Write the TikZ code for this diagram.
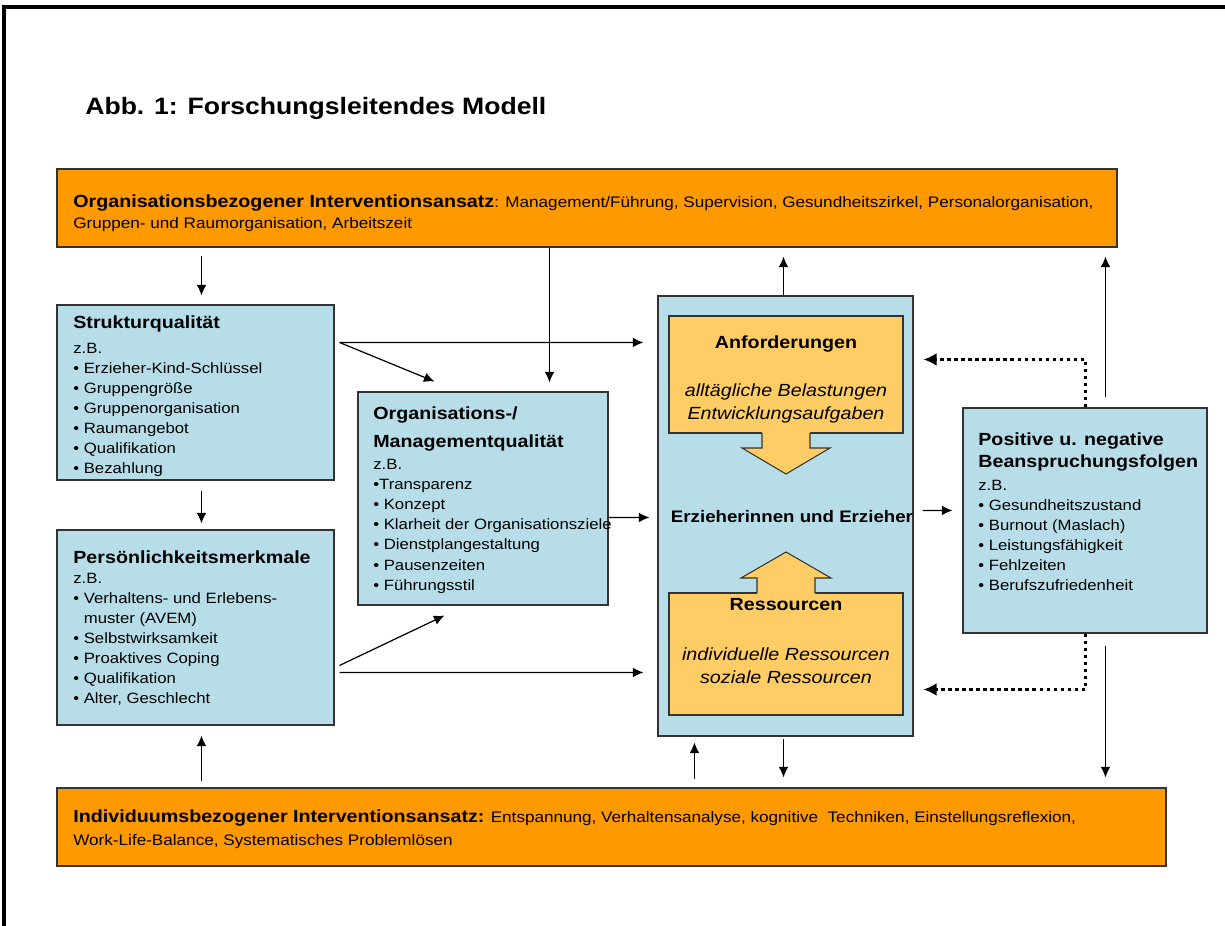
\documentclass[tikz,border=0pt]{standalone}
\usepackage{fontspec}
\setmainfont{Liberation Sans}[FakeStretch=1.12]
\usepackage{tikz}
\usetikzlibrary{positioning,fit,calc,arrows.meta}
\usepackage{xcolor}
\definecolor{ivorange}{HTML}{FF9900}
\definecolor{ivblau}{HTML}{B7DEE8}
\definecolor{ivgelb}{HTML}{FFCC66}
\definecolor{rahmen}{HTML}{333333}
\newcommand\kopf[1]{{\fontsize{10}{12}\selectfont\bfseries #1}}

\begin{document}
\begin{tikzpicture}[x=0.02cm,y=-0.02cm,
    box/.style={draw=rahmen, line width=0.6pt, inner sep=0pt},
    ansatz/.style={box, fill=ivorange},
    feld/.style={box, fill=ivblau},
    teil/.style={box, fill=ivgelb},
    txt/.style={anchor=north west, inner sep=0pt, align=left,
                font=\fontsize{8.5}{11.4}\selectfont},
    pfeil/.style={-{Latex[length=6pt,width=5.5pt]}, line width=0.7pt},
    punkte/.style={-{Latex[length=7.5pt,width=7.5pt]}, line width=2pt,
                   dash pattern=on 2pt off 2pt}]
    \useasboundingbox (0,0) rectangle (1225,926);
    % Rahmen oben und links
    \draw[line width=1.8pt] (4,926) -- (4,7) -- (1225,7);
    % Titel
    \node[anchor=base west, inner sep=0pt, font=\fontsize{13.5}{16}\selectfont\bfseries]
        (titel) at (85,115) {Abb. 1: Forschungsleitendes Modell};
    % Interventionsansaetze oben und unten
    \node[ansatz, fit={(57,169) (1117,247)}] (organsatz) {};
    \node[txt, font=\fontsize{8.7}{12}\selectfont] (orgtext) at (73,194)
        {\kopf{Organisationsbezogener Interventionsansatz}: Management/Führung, Supervision, Gesundheitszirkel, Personalorganisation,\\
         Gruppen- und Raumorganisation, Arbeitszeit};
    \node[ansatz, fit={(57,788) (1166,866)}] (individ) {};
    \node[txt, font=\fontsize{8.7}{13.6}\selectfont] (indtext) at (73,809)
        {\kopf{Individuumsbezogener Interventionsansatz:} Entspannung, Verhaltensanalyse, kognitive \ Techniken, Einstellungsreflexion,\\
         Work-Life-Balance, Systematisches Problemlösen};
    % Linke Spalte
    \node[feld, fit={(57,305) (334,480)}] (struktur) {};
    \node[txt] (strtext) at (73,315)
        {\kopf{Strukturqualität}\\[2.8pt]
         z.B.\\
         • Erzieher-Kind-Schlüssel\\
         • Gruppengröße\\
         • Gruppenorganisation\\
         • Raumangebot\\
         • Qualifikation\\
         • Bezahlung};
    \node[feld, fit={(57,530) (334,725)}] (persoenlich) {};
    \node[txt] (perstext) at (73,550)
        {\kopf{Persönlichkeitsmerkmale}\\
         z.B.\\
         • Verhaltens- und Erlebens-\\
         \phantom{• }muster (AVEM)\\
         • Selbstwirksamkeit\\
         • Proaktives Coping\\
         • Qualifikation\\
         • Alter, Geschlecht};
    % Mitte
    \node[feld, fit={(358,392) (608,605)}] (orgmgmt) {};
    \node[txt] (mgmttext) at (373,406)
        {\kopf{Organisations-/}\\[4.5pt]
         \kopf{Managementqualität}\\[1.6pt]
         z.B.\\
         •Transparenz\\
         • Konzept\\
         • Klarheit der Organisationsziele\\
         • Dienstplangestaltung\\
         • Pausenzeiten\\
         • Führungsstil};
    \node[feld, fit={(658,296) (913,736)}] (mitte) {};
    \node[teil, fit={(669,316) (903,433)}] (anford) {};
    \node[teil, fit={(669,593) (903,715)}] (ressourc) {};
    % Blockpfeile
    \fill[ivgelb] (762,431) -- (762,448) -- (742,448) -- (786,474) -- (830,448) -- (810,448) -- (810,431) -- cycle;
    \draw[rahmen, line width=0.6pt] (762,433) -- (762,448) -- (742,448) -- (786,474) -- (830,448) -- (810,448) -- (810,433);
    \fill[ivgelb] (757,595) -- (757,578) -- (741,578) -- (786,552) -- (831,578) -- (815,578) -- (815,595) -- cycle;
    \draw[rahmen, line width=0.6pt] (757,593) -- (757,578) -- (741,578) -- (786,552) -- (831,578) -- (815,578) -- (815,593);
    \node[anchor=base, inner sep=0pt, font=\fontsize{10}{12}\selectfont\bfseries]
        (anftitel) at (786,348) {Anforderungen};
    \node[anchor=north, inner sep=0pt, align=center, font=\fontsize{10}{13.6}\selectfont\itshape]
        (anftext) at (786,383) {alltägliche Belastungen\\Entwicklungsaufgaben};
    \node[anchor=base, inner sep=0pt, font=\fontsize{9.5}{12}\selectfont\bfseries]
        (erzieher) at (792,522) {Erzieherinnen und Erzieher};
    \node[anchor=base, inner sep=0pt, font=\fontsize{10}{12}\selectfont\bfseries]
        (restitel) at (786,610) {Ressourcen};
    \node[anchor=north, inner sep=0pt, align=center, font=\fontsize{10}{13.6}\selectfont\itshape]
        (restext) at (786,647) {individuelle Ressourcen\\soziale Ressourcen};
    % Rechte Spalte
    \node[feld, fit={(963,408) (1207,633)}] (positiv) {};
    \node[txt] (postext) at (978,432)
        {\kopf{Positive u. negative}\\[1.6pt]
         \kopf{Beanspruchungsfolgen}\\[1.6pt]
         z.B.\\
         • Gesundheitszustand\\
         • Burnout (Maslach)\\
         • Leistungsfähigkeit\\
         • Fehlzeiten\\
         • Berufszufriedenheit};
    % Pfeile senkrecht
    \draw[pfeil] ($(organsatz.south west)+(145,8)$) -- ($(struktur.north west)+(145,-9)$);
    \draw[pfeil] ($(organsatz.south west)+(493,0)$) -- ($(orgmgmt.north west)+(192,-9)$);
    \draw[pfeil] ($(mitte.north)+(-2,0)$) -- ($(mitte.north |- organsatz.south)+(-2,9)$);
    \draw[pfeil] ($(positiv.north west)+(143,-10)$) -- ($(positiv.north west |- organsatz.south)+(143,9)$);
    \draw[pfeil] ($(struktur.south west)+(145,10)$) -- ($(persoenlich.north west)+(145,-6)$);
    \draw[pfeil] ($(individ.north west)+(145,-6)$) -- ($(persoenlich.south west)+(145,10)$);
    \draw[pfeil] ($(individ.north west)+(638,-8)$) -- ($(mitte.south west)+(37,6)$);
    \draw[pfeil] ($(mitte.south)+(-2,2)$) -- ($(mitte.south |- individ.north)+(-2,-10)$);
    \draw[pfeil] ($(positiv.south west)+(143,12)$) -- ($(positiv.south west |- individ.north)+(143,-10)$);
    % Pfeile waagerecht und schraeg
    \draw[pfeil] ($(struktur.north east)+(5,38)$) -- ($(mitte.north west)+(-14,47)$);
    \draw[pfeil] ($(struktur.north east)+(5,38)$) -- ($(orgmgmt.north west)+(77,-10)$);
    \draw[pfeil] ($(persoenlich.north east)+(5,136)$) -- ($(orgmgmt.south west)+(87,10)$);
    \draw[pfeil] ($(persoenlich.north east)+(5,143)$) -- ($(mitte.north west)+(-14,377)$);
    \draw[pfeil] ($(orgmgmt.north east)+(0,126)$) -- ($(mitte.north west)+(-8,222)$);
    \draw[pfeil] ($(mitte.north east)+(9,215)$) -- ($(positiv.north west)+(-10,103)$);
    % Rueckwirkung gepunktet
    \draw[punkte] ($(positiv.north west)+(123,0)$) |- ($(mitte.north east)+(10,64)$);
    \draw[punkte] ($(positiv.south west)+(123,0)$) |- ($(mitte.north east)+(10,394)$);
\end{tikzpicture}
\end{document}
